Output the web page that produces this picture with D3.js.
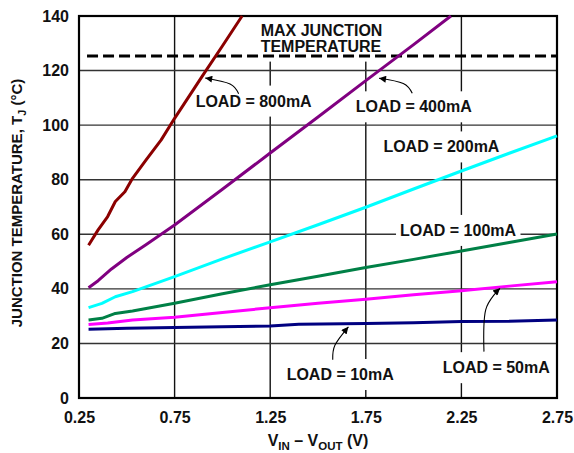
<!DOCTYPE html>
<html>
<head>
<meta charset="utf-8">
<script src="https://cdn.jsdelivr.net/npm/d3@7/dist/d3.min.js"></script>
<style>
  body { margin: 0; background: #fff; }
  svg text { font-family: "Liberation Sans", Arial, Helvetica, sans-serif; font-weight: bold; fill: #111; }
</style>
</head>
<body>
<svg id="chart" width="574" height="453"></svg>
<script>
// values
const xTicks = [0.25, 0.75, 1.25, 1.75, 2.25, 2.75];
const yTicks = [0, 20, 40, 60, 80, 100, 120, 140];
const maxJunctionTemp = 125.3;

const v800 = [0.3, 0.35, 0.4, 0.44, 0.49, 0.53, 0.6, 0.68, 0.75, 0.9, 1.0, 1.103];
const t800 = [56, 61.6, 66.5, 72, 75.6, 80.5, 87.2, 94.6, 102.5, 118.5, 129, 140];

const v400 = [0.3, 0.35, 0.42, 0.5, 0.6, 0.75, 1.0, 1.25, 1.5, 1.75, 2.0, 2.195];
const t400 = [40.4, 43, 47.3, 51.5, 56.2, 63.4, 76.5, 89.8, 103, 116.3, 129.5, 140];

const v200 = [0.3, 0.37, 0.44, 0.53, 0.75, 1.0, 1.25, 1.5, 1.75, 2.0, 2.25, 2.5, 2.75];
const t200 = [33.1, 34.7, 37.1, 39, 44.5, 51, 57.2, 63.5, 69.9, 76.6, 83.2, 89.7, 96.1];

const v100 = [0.3, 0.37, 0.44, 0.53, 0.75, 1.0, 1.25, 1.5, 1.75, 2.0, 2.25, 2.5, 2.75];
const t100 = [28.6, 29.2, 31, 31.9, 34.7, 38.2, 41.5, 44.6, 47.8, 50.8, 53.9, 57, 60.1];

const v50 = [0.3, 0.4, 0.53, 0.75, 1.0, 1.25, 1.5, 1.75, 2.0, 2.25, 2.5, 2.75];
const t50 = [26.9, 27.5, 28.6, 29.6, 31.3, 33.1, 34.7, 36.2, 37.8, 39.3, 41, 42.6];

const v10 = [0.3, 0.5, 0.75, 1.0, 1.25, 1.4, 1.75, 2.0, 2.25, 2.5, 2.75];
const t10 = [25.2, 25.6, 25.8, 26.1, 26.4, 27, 27.3, 27.6, 28, 28.1, 28.6];

const seriesNames = ["800mA", "400mA", "200mA", "100mA", "50mA", "10mA"];
const seriesColors = ["#8b0000", "#800080", "#00ffff", "#008046", "#ff00ff", "#000080"];
const seriesV = [v800, v400, v200, v100, v50, v10];
const seriesT = [t800, t400, t200, t100, t50, t10];

// label anchors (left x, baseline) in data units
const labelNames = ["800mA", "400mA", "200mA", "100mA", "10mA", "50mA"];
const labelV = [0.86, 1.697, 1.842, 1.929, 1.336, 2.152];
const labelT = [106.8, 104.7, 90.0, 59.4, 6.6, 9.1];

// arrows: tail, bend, head
const arrows = [
  [[1.085, 111.5], [1.04, 115.1], [0.91, 117.3]],
  [[1.993, 111.7], [1.946, 115.3], [1.819, 117.2]],
  [[1.577, 14], [1.589, 19.4], [1.659, 26.1]],
  [[2.368, 17], [2.377, 32.3], [2.452, 40.2]],
];

const svg = d3.select("#chart");
const plot = { left: 79, right: 557, top: 16, bottom: 398 };
const fontSize = 16;

const x = d3.scaleLinear().domain([0.25, 2.75]).range([plot.left, plot.right]);
const y = d3.scaleLinear().domain([0, 140]).range([plot.bottom, plot.top]);

// grid
const grid = svg.append("g");
grid.selectAll(".vgrid")
  .data(xTicks.slice(1, -1))
  .join("line")
  .attr("x1", (d) => x(d)).attr("x2", (d) => x(d))
  .attr("y1", plot.top).attr("y2", plot.bottom)
  .attr("stroke", "#111").attr("stroke-width", 1.4);
grid.selectAll(".hgrid")
  .data(yTicks.slice(1, -1))
  .join("line")
  .attr("x1", plot.left).attr("x2", plot.right)
  .attr("y1", (d) => y(d)).attr("y2", (d) => y(d))
  .attr("stroke", "#333").attr("stroke-width", 1.4);

const boxLayer = svg.append("g");
const lineLayer = svg.append("g");
const textLayer = svg.append("g");

function addLabel(lines, v, t, lineGap) {
  const group = textLayer.append("g");
  lines.forEach((line, i) => {
    group.append("text")
      .attr("x", x(v))
      .attr("y", y(t) + i * lineGap)
      .attr("font-size", fontSize)
      .text(line);
  });
  const bbox = group.node().getBBox();
  boxLayer.append("rect")
    .attr("x", bbox.x - 4)
    .attr("y", bbox.y - 7)
    .attr("width", bbox.width + 8)
    .attr("height", bbox.height + 14)
    .attr("fill", "#fff");
}

labelNames.forEach((name, i) => addLabel(["LOAD = " + name], labelV[i], labelT[i], 0));
addLabel(["MAX JUNCTION", "TEMPERATURE"], 1.2, 132.7, 15.7);

// max junction temperature
lineLayer.append("line")
  .attr("x1", x(0.292)).attr("x2", plot.right)
  .attr("y1", y(maxJunctionTemp)).attr("y2", y(maxJunctionTemp))
  .attr("stroke", "#000").attr("stroke-width", 3)
  .attr("stroke-dasharray", "11,5");

// frame
lineLayer.append("rect")
  .attr("x", plot.left).attr("y", plot.top)
  .attr("width", plot.right - plot.left).attr("height", plot.bottom - plot.top)
  .attr("fill", "none").attr("stroke", "#000").attr("stroke-width", 2.2);

const curve = d3.line().x((d) => x(d[0])).y((d) => y(d[1]));
seriesNames.forEach((name, i) => {
  const points = seriesV[i].map((v, j) => [v, seriesT[i][j]]);
  lineLayer.append("path")
    .attr("d", curve(points))
    .attr("fill", "none")
    .attr("stroke", seriesColors[i])
    .attr("stroke-width", 3)
    .attr("stroke-linejoin", "round");
});

svg.append("defs").append("marker")
  .attr("id", "head")
  .attr("viewBox", "0 0 10 10")
  .attr("refX", 10).attr("refY", 5)
  .attr("markerWidth", 9).attr("markerHeight", 7)
  .attr("markerUnits", "userSpaceOnUse")
  .attr("orient", "auto")
  .append("path").attr("d", "M0,0L10,5L0,10z").attr("fill", "#000");

const arrowLine = d3.line().x((d) => x(d[0])).y((d) => y(d[1])).curve(d3.curveCardinal);
arrows.forEach((pts) => {
  lineLayer.append("path")
    .attr("d", arrowLine(pts))
    .attr("fill", "none")
    .attr("stroke", "#000")
    .attr("stroke-width", 1.1)
    .attr("marker-end", "url(#head)");
});

// axes labels
const xAxis = d3.axisBottom(x).tickValues(xTicks).tickSize(0).tickPadding(14)
  .tickFormat(d3.format(".2f"));
const xg = svg.append("g").attr("transform", `translate(0,${plot.bottom})`).call(xAxis);
xg.select(".domain").remove();
xg.selectAll("text").attr("font-size", fontSize).attr("fill", "#111");

const yAxis = d3.axisLeft(y).tickValues(yTicks).tickSize(0).tickPadding(10);
const yg = svg.append("g").attr("transform", `translate(${plot.left},0)`).call(yAxis);
yg.select(".domain").remove();
yg.selectAll("text").attr("font-size", fontSize).attr("fill", "#111");

const xTitle = svg.append("text")
  .attr("x", (plot.left + plot.right) / 2)
  .attr("y", 446)
  .attr("text-anchor", "middle")
  .attr("font-size", fontSize);
xTitle.append("tspan").text("V");
xTitle.append("tspan").attr("font-size", 11.5).attr("dy", 4).text("IN");
xTitle.append("tspan").attr("dy", -4).text(" \u2013 V");
xTitle.append("tspan").attr("font-size", 11.5).attr("dy", 4).text("OUT");
xTitle.append("tspan").attr("dy", -4).text(" (V)");

const yTitle = svg.append("text")
  .attr("transform", "translate(22,203) rotate(-90)")
  .attr("text-anchor", "middle")
  .attr("font-size", 15);
yTitle.append("tspan").text("JUNCTION TEMPERATURE, T");
yTitle.append("tspan").attr("font-size", 11).attr("dy", 4).text("J");
yTitle.append("tspan").attr("dy", -4).text(" (\u00b0C)");
</script>
</body>
</html>
